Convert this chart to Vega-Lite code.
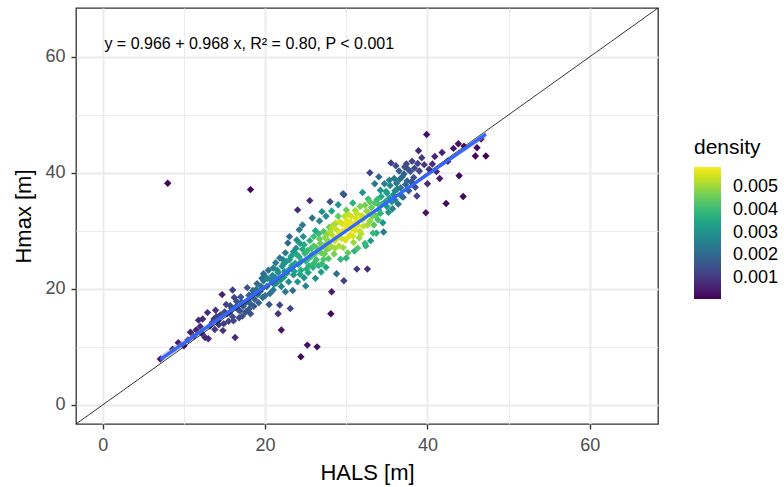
{
  "$schema": "https://vega.github.io/schema/vega-lite/v6.json",
  "autosize": "none",
  "width": 582,
  "height": 416,
  "padding": {"left": 76, "top": 8, "right": 126, "bottom": 63},
  "background": "white",
  "config": {
    "font": "Liberation Sans",
    "view": {"stroke": "#333333", "strokeWidth": 1.3}
  },
  "datasets": {
    "pts": [
      {"x":7.1,"y":7.9,"d":0.0003},{"x":8.6,"y":9.6,"d":0.0004},{"x":9.3,"y":10.7,"d":0.0004},{"x":10.0,"y":10.2,"d":0.0005},{"x":10.5,"y":11.2,"d":0.0006},
      {"x":11.2,"y":11.8,"d":0.0007},{"x":11.8,"y":14.6,"d":0.0007},{"x":12.0,"y":13.5,"d":0.0008},{"x":12.3,"y":14.8,"d":0.0008},{"x":12.6,"y":11.6,"d":0.0007},
      {"x":12.9,"y":15.9,"d":0.0008},{"x":13.0,"y":11.4,"d":0.0008},{"x":13.5,"y":14.2,"d":0.0010},{"x":13.8,"y":13.0,"d":0.0010},{"x":14.0,"y":15.2,"d":0.0011},
      {"x":14.3,"y":13.8,"d":0.0011},{"x":14.7,"y":19.0,"d":0.0006},{"x":14.8,"y":12.8,"d":0.0009},{"x":15.0,"y":16.0,"d":0.0013},{"x":15.3,"y":15.7,"d":0.0013},
      {"x":15.5,"y":14.4,"d":0.0012},{"x":15.7,"y":17.1,"d":0.0014},{"x":16.0,"y":15.2,"d":0.0014},{"x":16.1,"y":14.5,"d":0.0013},{"x":16.3,"y":11.6,"d":0.0008},
      {"x":16.5,"y":17.8,"d":0.0015},{"x":16.7,"y":16.4,"d":0.0016},{"x":16.9,"y":16.2,"d":0.0016},{"x":17.0,"y":18.6,"d":0.0016},{"x":17.2,"y":15.3,"d":0.0015},
      {"x":17.5,"y":17.5,"d":0.0018},{"x":17.8,"y":20.2,"d":0.0016},{"x":18.0,"y":16.5,"d":0.0017},{"x":18.2,"y":15.7,"d":0.0015},{"x":18.2,"y":17.4,"d":0.0018},
      {"x":18.4,"y":19.0,"d":0.0020},{"x":18.5,"y":19.7,"d":0.0020},{"x":18.7,"y":18.2,"d":0.0020},{"x":19.0,"y":20.9,"d":0.0021},{"x":19.2,"y":17.6,"d":0.0019},
      {"x":19.4,"y":19.6,"d":0.0023},{"x":19.6,"y":21.8,"d":0.0022},{"x":19.8,"y":21.4,"d":0.0023},{"x":19.8,"y":22.6,"d":0.0021},{"x":20.0,"y":18.8,"d":0.0022},
      {"x":20.2,"y":20.4,"d":0.0025},{"x":20.4,"y":23.2,"d":0.0022},{"x":20.5,"y":17.3,"d":0.0017},
      {"x":20.7,"y":21.5,"d":0.0027},{"x":20.9,"y":22.3,"d":0.0027},{"x":21.0,"y":23.6,"d":0.0026},{"x":21.0,"y":19.8,"d":0.0024},{"x":21.3,"y":24.5,"d":0.0024},
      {"x":21.4,"y":21.0,"d":0.0028},{"x":21.6,"y":22.8,"d":0.0029},{"x":21.6,"y":15.7,"d":0.0009},{"x":21.8,"y":25.3,"d":0.0024},{"x":21.8,"y":17.2,"d":0.0012},
      {"x":22.0,"y":12.9,"d":0.0004},{"x":22.0,"y":20.4,"d":0.0027},{"x":22.1,"y":23.9,"d":0.0030},{"x":22.3,"y":22.0,"d":0.0031},{"x":22.5,"y":26.2,"d":0.0024},
      {"x":22.6,"y":24.7,"d":0.0031},{"x":22.8,"y":27.9,"d":0.0020},{"x":22.9,"y":21.2,"d":0.0029},{"x":23.0,"y":23.4,"d":0.0033},{"x":23.1,"y":16.6,"d":0.0012},
      {"x":23.2,"y":25.6,"d":0.0033},{"x":23.4,"y":19.7,"d":0.0022},{"x":23.5,"y":22.4,"d":0.0032},{"x":23.7,"y":24.4,"d":0.0035},{"x":23.8,"y":27.0,"d":0.0030},
      {"x":24.0,"y":33.6,"d":0.0008},{"x":24.0,"y":21.2,"d":0.0030},{"x":24.2,"y":25.5,"d":0.0037},{"x":24.4,"y":8.3,"d":0.0002},{"x":24.4,"y":23.2,"d":0.0036},
      {"x":24.6,"y":26.8,"d":0.0036},{"x":24.7,"y":29.0,"d":0.0030},{"x":24.8,"y":21.9,"d":0.0032},{"x":25.0,"y":24.8,"d":0.0039},{"x":25.2,"y":26.6,"d":0.0040},
      {"x":25.2,"y":10.3,"d":0.0003},{"x":25.3,"y":22.8,"d":0.0035},{"x":25.5,"y":35.2,"d":0.0007},{"x":25.5,"y":28.3,"d":0.0038},{"x":25.6,"y":25.5,"d":0.0041},
      {"x":25.8,"y":32.2,"d":0.0022},{"x":25.9,"y":23.7,"d":0.0037},{"x":26.0,"y":27.4,"d":0.0043},{"x":26.2,"y":30.0,"d":0.0035},{"x":26.3,"y":25.0,"d":0.0041},
      {"x":26.4,"y":10.0,"d":0.0003},{"x":26.5,"y":26.5,"d":0.0044},{"x":26.7,"y":31.7,"d":0.0028},{"x":26.7,"y":28.6,"d":0.0045},{"x":26.9,"y":22.9,"d":0.0034},
      {"x":27.0,"y":24.3,"d":0.0040},{"x":27.1,"y":27.3,"d":0.0047},{"x":27.2,"y":29.9,"d":0.0043},{"x":27.3,"y":26.0,"d":0.0046},{"x":27.5,"y":32.5,"d":0.0030},
      {"x":27.6,"y":28.5,"d":0.0049},{"x":27.8,"y":25.2,"d":0.0043},{"x":27.9,"y":30.6,"d":0.0046},
      {"x":28.0,"y":35.0,"d":0.0015},{"x":28.1,"y":27.4,"d":0.0051},{"x":28.1,"y":15.7,"d":0.0002},{"x":28.2,"y":19.5,"d":0.0005},{"x":28.2,"y":33.4,"d":0.0035},
      {"x":28.3,"y":29.2,"d":0.0053},{"x":28.4,"y":31.0,"d":0.0050},{"x":28.5,"y":26.0,"d":0.0047},{"x":28.6,"y":28.3,"d":0.0054},{"x":28.8,"y":22.6,"d":0.0022},
      {"x":28.8,"y":30.2,"d":0.0054},{"x":29.0,"y":32.5,"d":0.0045},{"x":29.1,"y":27.4,"d":0.0052},{"x":29.2,"y":29.5,"d":0.0056},{"x":29.3,"y":25.1,"d":0.0040},
      {"x":29.5,"y":31.2,"d":0.0055},{"x":29.6,"y":27.1,"d":0.0050},{"x":29.6,"y":36.4,"d":0.0018},{"x":29.7,"y":21.4,"d":0.0012},{"x":29.7,"y":36.2,"d":0.0012},
      {"x":29.8,"y":30.0,"d":0.0057},{"x":29.9,"y":28.4,"d":0.0055},{"x":30.0,"y":33.6,"d":0.0045},{"x":30.1,"y":31.7,"d":0.0057},{"x":30.2,"y":26.2,"d":0.0045},
      {"x":30.4,"y":30.8,"d":0.0057},{"x":30.5,"y":29.3,"d":0.0056},{"x":30.6,"y":32.5,"d":0.0055},{"x":30.8,"y":34.8,"d":0.0038},{"x":30.9,"y":28.0,"d":0.0050},
      {"x":31.0,"y":31.2,"d":0.0057},{"x":31.1,"y":30.1,"d":0.0056},{"x":31.3,"y":23.4,"d":0.0010},{"x":31.3,"y":33.0,"d":0.0054},{"x":31.4,"y":27.0,"d":0.0043},
      {"x":31.5,"y":31.8,"d":0.0056},{"x":31.7,"y":34.2,"d":0.0047},{"x":31.8,"y":29.5,"d":0.0052},{"x":31.9,"y":32.6,"d":0.0054},{"x":32.0,"y":36.6,"d":0.0030},
      {"x":32.1,"y":30.8,"d":0.0053},{"x":32.3,"y":27.8,"d":0.0040},{"x":32.4,"y":27.4,"d":0.0037},{"x":32.5,"y":33.4,"d":0.0050},{"x":32.6,"y":23.4,"d":0.0008},
      {"x":32.7,"y":35.5,"d":0.0040},{"x":32.9,"y":40.0,"d":0.0012},{"x":32.9,"y":31.7,"d":0.0049},{"x":33.1,"y":34.0,"d":0.0046},{"x":33.3,"y":29.6,"d":0.0040},
      {"x":33.5,"y":38.1,"d":0.0024},{"x":33.6,"y":32.6,"d":0.0044},{"x":33.7,"y":29.6,"d":0.0036},{"x":33.8,"y":35.4,"d":0.0040},{"x":34.0,"y":33.6,"d":0.0040},
      {"x":34.2,"y":37.0,"d":0.0030},{"x":34.5,"y":31.4,"d":0.0032},{"x":34.6,"y":29.8,"d":0.0025},{"x":34.7,"y":38.1,"d":0.0026},{"x":34.8,"y":35.0,"d":0.0034},
      {"x":35.0,"y":36.5,"d":0.0032},{"x":35.2,"y":33.2,"d":0.0030},{"x":35.4,"y":37.8,"d":0.0028},{"x":35.5,"y":41.7,"d":0.0011},{"x":35.6,"y":35.0,"d":0.0030},
      {"x":35.7,"y":33.8,"d":0.0026},{"x":35.9,"y":39.0,"d":0.0024},{"x":36.0,"y":36.9,"d":0.0027},{"x":36.2,"y":38.2,"d":0.0024},{"x":36.4,"y":34.6,"d":0.0023},
      {"x":36.5,"y":40.3,"d":0.0018},{"x":36.7,"y":37.4,"d":0.0023},{"x":36.9,"y":39.3,"d":0.0020},{"x":37.0,"y":35.8,"d":0.0020},{"x":37.2,"y":41.0,"d":0.0015},
      {"x":37.4,"y":41.5,"d":0.0013},{"x":37.5,"y":38.6,"d":0.0019},{"x":37.7,"y":36.9,"d":0.0018},{"x":37.9,"y":40.2,"d":0.0016},{"x":38.1,"y":42.0,"d":0.0012},
      {"x":38.3,"y":39.2,"d":0.0015},{"x":38.5,"y":37.5,"d":0.0014},{"x":38.7,"y":36.0,"d":0.0012},{"x":38.8,"y":41.6,"d":0.0012},{"x":38.9,"y":43.8,"d":0.0007},
      {"x":39.0,"y":40.3,"d":0.0012},{"x":39.3,"y":42.6,"d":0.0010},{"x":39.6,"y":41.4,"d":0.0010},{"x":39.8,"y":33.1,"d":0.0004},{"x":39.9,"y":46.6,"d":0.0003},
      {"x":40.0,"y":38.1,"d":0.0008},{"x":40.2,"y":40.6,"d":0.0009},{"x":40.6,"y":41.5,"d":0.0008},{"x":40.9,"y":42.8,"d":0.0007},{"x":41.1,"y":40.2,"d":0.0007},
      {"x":41.5,"y":39.0,"d":0.0005},{"x":41.8,"y":43.5,"d":0.0006},{"x":42.3,"y":34.7,"d":0.0002},{"x":42.5,"y":42.0,"d":0.0005},{"x":43.2,"y":44.2,"d":0.0004},
      {"x":43.8,"y":45.0,"d":0.0003},{"x":43.9,"y":39.5,"d":0.0002},{"x":44.4,"y":35.9,"d":0.0002},{"x":44.5,"y":44.6,"d":0.0003},{"x":45.9,"y":42.9,"d":0.0002},
      {"x":46.1,"y":44.3,"d":0.0002},{"x":46.6,"y":45.8,"d":0.0002},{"x":47.2,"y":42.9,"d":0.0001},
      {"x":8.0,"y":38.2,"d":0.0001},{"x":18.2,"y":37.1,"d":0.0002},
      {"x":22.4,"y":23.0,"d":0.0031},{"x":23.3,"y":24.0,"d":0.0034},{"x":24.1,"y":24.2,"d":0.0037},{"x":24.9,"y":26.1,"d":0.0040},{"x":25.7,"y":27.0,"d":0.0042},
      {"x":26.1,"y":26.0,"d":0.0043},{"x":26.8,"y":27.8,"d":0.0046},{"x":27.4,"y":28.9,"d":0.0049},{"x":27.6,"y":26.8,"d":0.0047},{"x":28.0,"y":29.8,"d":0.0052},
      {"x":28.7,"y":31.3,"d":0.0052},{"x":29.4,"y":28.7,"d":0.0055},{"x":29.9,"y":31.0,"d":0.0057},{"x":30.3,"y":32.8,"d":0.0054},{"x":30.7,"y":30.3,"d":0.0057},
      {"x":31.2,"y":32.2,"d":0.0055},{"x":31.6,"y":28.8,"d":0.0050},{"x":32.2,"y":32.3,"d":0.0053},{"x":32.8,"y":33.0,"d":0.0050},{"x":33.4,"y":31.0,"d":0.0044},
      {"x":33.9,"y":34.6,"d":0.0042},{"x":34.3,"y":35.9,"d":0.0036},{"x":34.9,"y":36.8,"d":0.0033},{"x":35.3,"y":35.6,"d":0.0031},{"x":36.0,"y":35.3,"d":0.0026},
      {"x":36.6,"y":38.9,"d":0.0022},{"x":37.3,"y":38.0,"d":0.0020},{"x":26.0,"y":29.0,"d":0.0041},{"x":24.3,"y":27.8,"d":0.0034},{"x":23.5,"y":26.4,"d":0.0030},
      {"x":22.2,"y":25.0,"d":0.0026},{"x":21.2,"y":22.0,"d":0.0028},{"x":20.3,"y":21.8,"d":0.0026},{"x":19.5,"y":20.4,"d":0.0023},{"x":18.9,"y":19.9,"d":0.0021},
      {"x":18.0,"y":18.9,"d":0.0019},{"x":17.3,"y":17.0,"d":0.0017},{"x":16.4,"y":16.9,"d":0.0015},{"x":15.6,"y":15.9,"d":0.0013},{"x":14.5,"y":15.5,"d":0.0011},
      {"x":13.7,"y":14.8,"d":0.0010},{"x":27.5,"y":23.7,"d":0.0035},{"x":26.6,"y":24.0,"d":0.0038},{"x":25.4,"y":24.0,"d":0.0038},{"x":30.0,"y":25.3,"d":0.0038},
      {"x":31.0,"y":26.5,"d":0.0038},{"x":33.0,"y":28.3,"d":0.0033},{"x":24.6,"y":31.0,"d":0.0024},{"x":23.0,"y":29.0,"d":0.0020},{"x":27.0,"y":33.3,"d":0.0030},
      {"x":29.0,"y":34.5,"d":0.0030},
      {"x":10.8,"y":12.5,"d":0.0006},{"x":11.5,"y":12.9,"d":0.0007},{"x":12.2,"y":12.3,"d":0.0008},{"x":13.2,"y":13.6,"d":0.0010},{"x":13.9,"y":16.3,"d":0.0009},
      {"x":14.2,"y":14.5,"d":0.0011},{"x":14.9,"y":14.0,"d":0.0011},{"x":15.2,"y":17.3,"d":0.0012},{"x":15.9,"y":16.6,"d":0.0014},{"x":16.2,"y":18.5,"d":0.0013},
      {"x":16.8,"y":15.0,"d":0.0013},{"x":17.1,"y":17.7,"d":0.0017},{"x":17.6,"y":16.0,"d":0.0015},{"x":17.9,"y":18.0,"d":0.0018},{"x":18.6,"y":17.0,"d":0.0017},
      {"x":19.1,"y":19.0,"d":0.0022},{"x":19.7,"y":18.5,"d":0.0021},{"x":20.1,"y":22.0,"d":0.0024},{"x":20.6,"y":19.2,"d":0.0023},{"x":16.0,"y":19.8,"d":0.0011},
      {"x":21.1,"y":20.8,"d":0.0027},{"x":21.5,"y":23.2,"d":0.0029},{"x":21.9,"y":21.5,"d":0.0029},{"x":22.3,"y":24.3,"d":0.0030},{"x":22.7,"y":22.7,"d":0.0032},
      {"x":23.0,"y":25.0,"d":0.0033},{"x":23.6,"y":23.0,"d":0.0034},{"x":23.9,"y":25.9,"d":0.0036},{"x":24.3,"y":22.5,"d":0.0034},{"x":24.5,"y":24.8,"d":0.0038},
      {"x":24.8,"y":27.6,"d":0.0036},{"x":25.1,"y":23.4,"d":0.0037},{"x":25.3,"y":25.2,"d":0.0040},{"x":25.8,"y":26.0,"d":0.0042},{"x":26.0,"y":24.4,"d":0.0040},
      {"x":26.3,"y":27.1,"d":0.0044},{"x":26.6,"y":29.5,"d":0.0040},{"x":26.9,"y":26.2,"d":0.0045},{"x":27.2,"y":25.1,"d":0.0043},{"x":27.4,"y":27.6,"d":0.0048},
      {"x":27.7,"y":29.5,"d":0.0048},{"x":27.9,"y":27.0,"d":0.0049},{"x":23.9,"y":28.4,"d":0.0028},{"x":22.5,"y":19.5,"d":0.0024},{"x":25.0,"y":20.5,"d":0.0026},
      {"x":26.2,"y":21.8,"d":0.0029},{"x":24.2,"y":30.2,"d":0.0024},
      {"x":28.3,"y":30.5,"d":0.0053},{"x":28.6,"y":27.0,"d":0.0051},{"x":28.9,"y":28.8,"d":0.0055},{"x":29.2,"y":31.5,"d":0.0055},{"x":29.5,"y":29.9,"d":0.0057},
      {"x":29.8,"y":32.5,"d":0.0053},{"x":30.2,"y":28.9,"d":0.0056},{"x":30.5,"y":31.5,"d":0.0057},{"x":30.8,"y":29.1,"d":0.0055},{"x":31.1,"y":33.5,"d":0.0051},
      {"x":31.4,"y":31.0,"d":0.0056},{"x":31.7,"y":29.9,"d":0.0053},{"x":32.0,"y":32.0,"d":0.0054},{"x":32.3,"y":34.4,"d":0.0047},{"x":32.6,"y":31.0,"d":0.0051},
      {"x":32.9,"y":35.0,"d":0.0044},{"x":33.2,"y":32.5,"d":0.0047},{"x":33.5,"y":34.8,"d":0.0043},{"x":33.9,"y":31.9,"d":0.0042},{"x":34.2,"y":33.0,"d":0.0039},
      {"x":34.4,"y":34.6,"d":0.0039},{"x":35.0,"y":34.2,"d":0.0033},{"x":35.3,"y":38.7,"d":0.0025},{"x":35.8,"y":36.2,"d":0.0029},{"x":36.3,"y":37.2,"d":0.0025},
      {"x":36.8,"y":36.0,"d":0.0022},{"x":37.1,"y":39.8,"d":0.0017},{"x":37.6,"y":40.6,"d":0.0015},{"x":38.0,"y":38.4,"d":0.0016},{"x":38.4,"y":40.8,"d":0.0013},
      {"x":36.1,"y":41.2,"d":0.0014},{"x":34.0,"y":39.3,"d":0.0020}
    ],
    "oneone": [{"x": -3.3, "y": -3.3}, {"x": 68.4, "y": 68.4}],
    "fit": [{"x": 7.1, "y": 7.84}, {"x": 47.2, "y": 46.66}],
    "band": [
      {"x": 7.1, "lo": 7.15, "hi": 8.55},
      {"x": 15, "lo": 15.15, "hi": 15.85},
      {"x": 22, "lo": 22.0, "hi": 22.5},
      {"x": 29, "lo": 28.9, "hi": 29.2},
      {"x": 36, "lo": 35.55, "hi": 36.05},
      {"x": 42, "lo": 41.3, "hi": 41.95},
      {"x": 47.2, "lo": 46.05, "hi": 47.25}
    ]
  },
  "layer": [
    {
      "data": {"name": "pts"},
      "mark": {"type": "point", "shape": "diamond", "filled": true, "size": 55, "opacity": 1},
      "encoding": {
        "x": {
          "field": "x", "type": "quantitative",
          "scale": {"domain": [-3.3, 68.4], "nice": false, "zero": false},
          "axis": {
            "title": "HALS [m]",
            "values": [0, 10, 20, 30, 40, 50, 60],
            "labelExpr": "datum.value % 20 === 0 ? datum.label : ''",
            "domain": false,
            "gridColor": "#EBEBEB",
            "gridWidth": {"condition": {"test": "datum.value % 20 === 0", "value": 2}, "value": 1},
            "tickOpacity": {"condition": {"test": "datum.value % 20 === 0", "value": 1}, "value": 0},
            "tickColor": "#333333", "tickSize": 5, "tickWidth": 1.4,
            "labelFontSize": 18, "labelColor": "#4D4D4D", "labelPadding": 7, "labelFlush": false,
            "titleFontSize": 22, "titleFontWeight": "normal", "titleColor": "#000000",
            "titleY": 55, "titleBaseline": "alphabetic"
          }
        },
        "y": {
          "field": "y", "type": "quantitative",
          "scale": {"domain": [-3.3, 68.4], "nice": false, "zero": false},
          "axis": {
            "title": "Hmax [m]",
            "values": [0, 10, 20, 30, 40, 50, 60],
            "labelExpr": "datum.value % 20 === 0 ? datum.label : ''",
            "domain": false,
            "gridColor": "#EBEBEB",
            "gridWidth": {"condition": {"test": "datum.value % 20 === 0", "value": 2}, "value": 1},
            "tickOpacity": {"condition": {"test": "datum.value % 20 === 0", "value": 1}, "value": 0},
            "tickColor": "#333333", "tickSize": 5, "tickWidth": 1.4,
            "labelFontSize": 18, "labelColor": "#4D4D4D", "labelPadding": 6, "labelFlush": false,
            "titleFontSize": 22, "titleFontWeight": "normal", "titleColor": "#000000",
            "titleX": -46, "titleY": 208, "titleAngle": -90, "titleBaseline": "alphabetic", "titleAlign": "center"
          }
        },
        "color": {
          "field": "d", "type": "quantitative",
          "scale": {"scheme": "viridis", "domain": [0.00008, 0.00588]},
          "legend": {
            "title": "density",
            "orient": "none", "legendX": 618, "legendY": 129, "direction": "vertical",
            "padding": 0,
            "values": [0.001, 0.002, 0.003, 0.004, 0.005],
            "format": ".3f",
            "gradientLength": 132, "gradientThickness": 27, "gradientStrokeWidth": 0,
            "titleFontSize": 21, "titleFontWeight": "normal", "titleColor": "#000000", "titlePadding": 9,
            "labelFontSize": 18, "labelColor": "#000000", "labelOffset": 12, "labelOverlap": false
          }
        },
        "order": {"field": "d", "type": "quantitative"}
      }
    },
    {
      "data": {"name": "oneone"},
      "mark": {"type": "line", "color": "#000000", "strokeWidth": 0.8, "clip": true},
      "encoding": {
        "x": {"field": "x", "type": "quantitative"},
        "y": {"field": "y", "type": "quantitative"}
      }
    },
    {
      "data": {"name": "band"},
      "mark": {"type": "area", "color": "#999999", "opacity": 0.45},
      "encoding": {
        "x": {"field": "x", "type": "quantitative"},
        "y": {"field": "lo", "type": "quantitative"},
        "y2": {"field": "hi"}
      }
    },
    {
      "data": {"name": "fit"},
      "mark": {"type": "line", "color": "#3366FF", "strokeWidth": 3.2},
      "encoding": {
        "x": {"field": "x", "type": "quantitative"},
        "y": {"field": "y", "type": "quantitative"}
      }
    },
    {
      "data": {"values": [{}]},
      "mark": {"type": "text", "align": "left", "baseline": "alphabetic", "fontSize": 16, "color": "#000000"},
      "encoding": {
        "x": {"datum": 0.2, "type": "quantitative"},
        "y": {"datum": 61.4, "type": "quantitative"},
        "text": {"value": "y = 0.966 + 0.968 x, R² = 0.80, P < 0.001"}
      }
    }
  ]
}
